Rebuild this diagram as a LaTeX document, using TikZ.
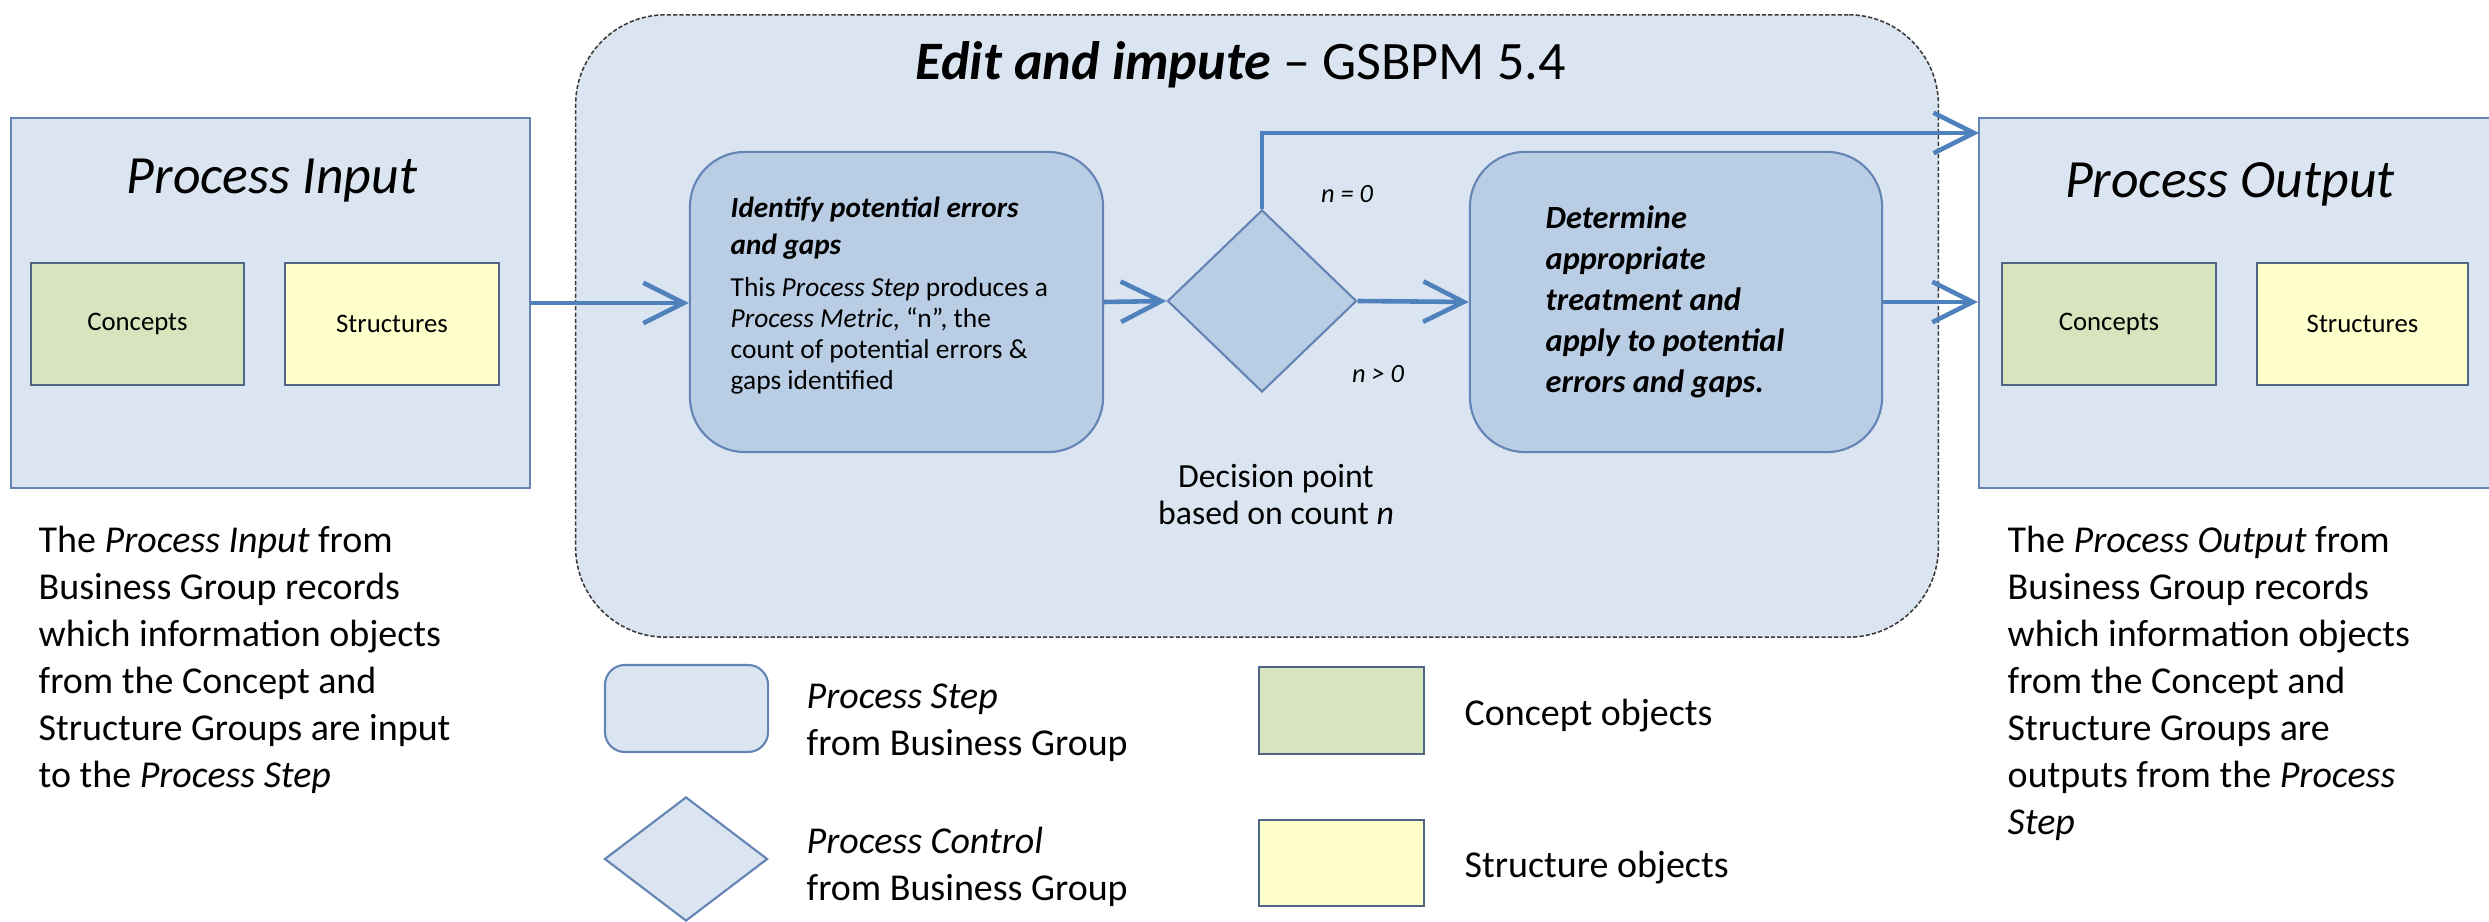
\documentclass[tikz,border=0pt]{standalone}
\usepackage{fontspec}
\setmainfont{Carlito}
\usetikzlibrary{arrows.meta,shapes.geometric}
\definecolor{lightfill}{HTML}{DBE5F1}
\definecolor{stepfill}{HTML}{B9CDE5}
\definecolor{boxline}{HTML}{6384B5}
\definecolor{arrowblue}{HTML}{4F81BD}
\definecolor{conceptfill}{HTML}{D7E4BD}
\definecolor{structfill}{HTML}{FFFFCC}
\definecolor{objline}{HTML}{4E6585}
\definecolor{dashline}{HTML}{3A3A3A}
\tikzset{
  outerbox/.style={draw=boxline, fill=lightfill, line width=0.6pt, inner sep=0, rectangle},
  stepbox/.style={draw=boxline, fill=stepfill, line width=0.6pt, inner sep=0, rectangle, rounded corners=0.55cm},
  decbox/.style={draw=boxline, fill=stepfill, line width=0.6pt, inner sep=0, diamond},
  conceptbox/.style={draw=objline, fill=conceptfill, line width=0.6pt, inner sep=0, rectangle, font=\fontsize{7.6}{9}\selectfont},
  structbox/.style={draw=objline, fill=structfill, line width=0.6pt, inner sep=0, rectangle, font=\fontsize{7.6}{9}\selectfont},
  arr/.style={draw=arrowblue, line width=1.3pt, -{Straight Barb[length=11.5pt,width=11.5pt,line width=1.3pt]}},
  plain/.style={inner sep=0, align=left},
  bigtitle/.style={inner sep=0, font=\fontsize{15.3}{18}\selectfont\itshape},
  note/.style={inner sep=0, align=left, font=\fontsize{10.8}{13.4}\selectfont},
  steptitle/.style={inner sep=0, align=left, font=\fontsize{8.3}{10.5}\selectfont\bfseries\itshape},
}
\begin{document}
\begin{tikzpicture}[x=0.01cm,y=-0.01cm]
\useasboundingbox[fill=white] (0,0) rectangle (2489,922);

% dashed container
\node[draw=dashline, fill=lightfill, line width=0.45pt, dash pattern=on 1.2pt off 0.6pt,
      rounded corners=0.9cm, minimum width=13.62cm, minimum height=6.22cm, inner sep=0] (ei) at (1257,326) {};
\node[anchor=base west, inner sep=0, font=\fontsize{15.4}{18}\selectfont] (eititle) at (915,80)
  {\textbf{\textit{Edit and impute}} – GSBPM 5.4};

% process input
\node[outerbox, minimum width=5.19cm, minimum height=3.70cm] (pi) at (270.5,303) {};
\node[bigtitle, anchor=base] (pititle) at (272,194) {Process Input};
\node[conceptbox, minimum width=2.13cm, minimum height=1.22cm] (c1) at (137.5,324) {Concepts};
\node[structbox, minimum width=2.14cm, minimum height=1.22cm] (s1) at (392,324) {Structures};

% process output
\node[outerbox, minimum width=5.19cm, minimum height=3.70cm] (po) at (2238.5,303) {};
\node[bigtitle, anchor=base] (potitle) at (2230,198) {Process Output};
\node[conceptbox, minimum width=2.14cm, minimum height=1.22cm] (c2) at (2109,324) {Concepts};
\node[structbox, minimum width=2.11cm, minimum height=1.22cm] (s2) at (2362.5,324) {Structures};

% steps
\node[stepbox, minimum width=4.13cm, minimum height=3.00cm] (id) at (896.5,302) {};
\node[steptitle, anchor=north west] (idtitle) at (730,196) {Identify potential errors\\and gaps};
\node[plain, anchor=north west, font=\fontsize{7.8}{8.8}\selectfont] (idbody) at (730,277)
  {This \textit{Process Step} produces a\\\textit{Process Metric}, “n”, the\\count of potential errors \&\\gaps identified};

\node[decbox, minimum width=1.89cm, minimum height=1.82cm] (dm) at (1262,301) {};

\node[stepbox, minimum width=4.12cm, minimum height=3.00cm] (det) at (1676,302) {};
\node[inner sep=0, align=left, font=\fontsize{9.2}{11.7}\selectfont\bfseries\itshape, anchor=north west] (dettext) at (1545,205)
  {Determine\\appropriate\\treatment and\\apply to potential\\errors and gaps.};

% labels
\node[anchor=base, inner sep=0, font=\fontsize{7.5}{9}\selectfont\itshape] (n0) at (1347,203) {n = 0};
\node[anchor=base, inner sep=0, font=\fontsize{7.5}{9}\selectfont\itshape] (n1) at (1378,383) {n > 0};
\node[anchor=north, inner sep=0, align=center, font=\fontsize{9.6}{10.3}\selectfont] (decision) at (1276,464)
  {Decision point\\based on count \textit{n}};

% connectors
\coordinate (potop) at (1979,133);
\draw[arr] (pi.east) -- (pi.east -| id.west);
\draw[arr] (id.east) -- (dm.west);
\draw[arr] (dm.east) -- (det.west);
\draw[arr] (det.east) -- (det.east -| po.west);
\draw[arr] (dm.north) |- (potop);

% annotations
\node[note, anchor=north west] (pinote) at (38,525)
  {The \textit{Process Input} from\\Business Group records\\which information objects\\from the Concept and\\Structure Groups are input\\to the \textit{Process Step}};
\node[note, anchor=north west] (ponote) at (2007,525)
  {The \textit{Process Output} from\\Business Group records\\which information objects\\from the Concept and\\Structure Groups are\\outputs from the \textit{Process}\\\textit{Step}};

% legend
\node[draw=boxline, fill=lightfill, line width=0.6pt, rounded corners=0.2cm, minimum width=1.63cm, minimum height=0.87cm, inner sep=0] (lgstep) at (686.5,708.5) {};
\node[note, anchor=north west] (lgsteptext) at (806,683) {\textit{Process Step}\\from Business Group};
\node[draw=boxline, fill=lightfill, line width=0.6pt, diamond, minimum width=1.63cm, minimum height=1.24cm, inner sep=0] (lgdm) at (686,859) {};
\node[note, anchor=north west] (lgdmtext) at (806,826) {\textit{Process Control}\\from Business Group};
\node[draw=objline, fill=conceptfill, line width=0.6pt, minimum width=1.65cm, minimum height=0.87cm, inner sep=0] (lgc) at (1341.5,710.5) {};
\node[note, anchor=base west] (lgctext) at (1464,725) {Concept objects};
\node[draw=objline, fill=structfill, line width=0.6pt, minimum width=1.65cm, minimum height=0.86cm, inner sep=0] (lgs) at (1341.5,863) {};
\node[note, anchor=base west] (lgstext) at (1464,877) {Structure objects};
\end{tikzpicture}
\end{document}
